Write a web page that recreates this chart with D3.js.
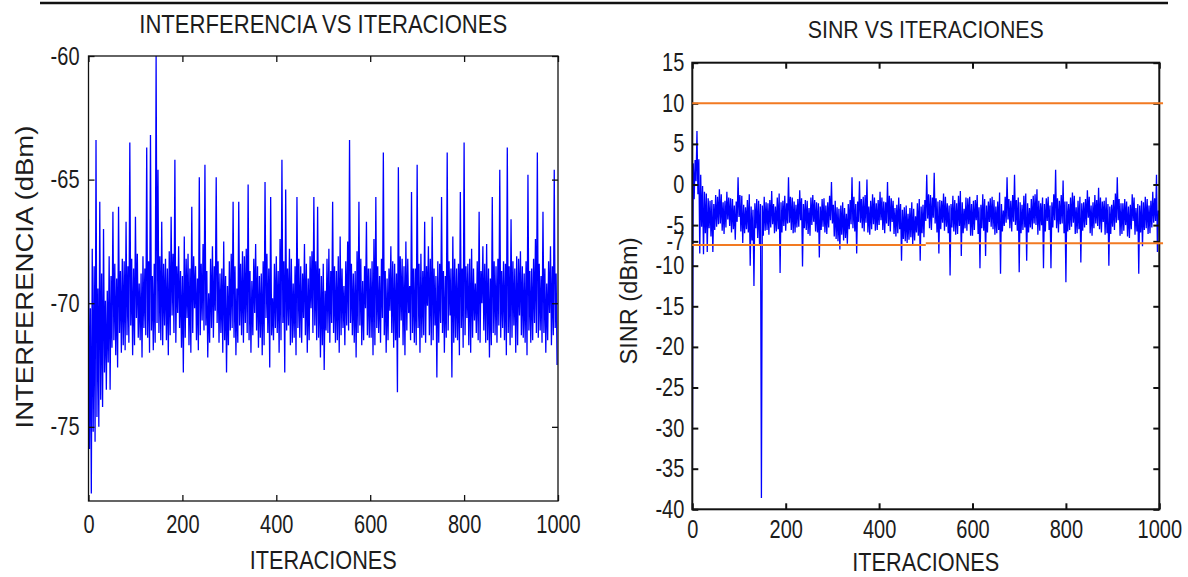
<!DOCTYPE html>
<html>
<head>
<meta charset="utf-8">
<script src="https://cdn.jsdelivr.net/npm/d3@7"></script>
<style>
body { margin: 0; background: #fff; }
svg text { font-family: "Liberation Sans", Arial, sans-serif; fill: #1c1c1c; }
</style>
</head>
<body>
<div id="chart"></div>
<script>
// una muestra cada 2 iteraciones
const paso = 2;

const interferencia = [
  -66.6, -75.9, -70.2, -77.7, -67.8, -75.2, -68.5, -75.6, -63.4, -74.6, -69.4, -75.0, -65.9, -73.9, -68.8, -74.2, -67.0, -72.8, -69.9, -73.5,
  -69.5, -72.4, -68.1, -73.5, -68.9, -71.8, -66.3, -71.5, -68.4, -72.1, -69.0, -72.6, -66.1, -71.2, -68.7, -72.0, -68.2, -71.7, -68.3, -71.9,
  -66.7, -71.3, -68.5, -71.6, -63.5, -70.9, -68.2, -72.1, -68.6, -71.7, -66.5, -70.6, -68.0, -71.4, -69.2, -71.5, -68.8, -72.2, -68.1, -71.0,
  -68.6, -71.3, -63.7, -71.4, -68.3, -72.0, -63.2, -71.1, -68.9, -71.9, -68.4, -71.6, -60.0, -70.8, -64.6, -71.2, -68.1, -71.5, -66.7, -71.7,
  -68.4, -70.9, -68.2, -71.5, -68.6, -72.1, -67.9, -71.3, -66.5, -70.5, -68.0, -71.2, -64.2, -71.6, -68.5, -70.4, -67.7, -71.0, -68.7, -71.8,
  -68.9, -72.8, -67.3, -71.4, -68.2, -70.6, -68.0, -71.7, -68.6, -72.0, -66.1, -71.2, -68.1, -70.2, -68.5, -71.5, -69.0, -71.9, -64.9, -71.3,
  -68.4, -70.7, -67.6, -71.1, -64.4, -70.9, -68.7, -72.2, -69.6, -71.6, -68.2, -71.0, -67.7, -71.4, -68.5, -70.3, -64.9, -70.8, -68.3, -71.6,
  -68.8, -71.2, -68.6, -72.0, -67.5, -71.5, -68.9, -72.8, -69.3, -71.7, -68.3, -71.1, -68.0, -71.0, -65.9, -71.4, -68.5, -72.1, -69.4, -71.6,
  -65.9, -70.9, -68.4, -71.3, -67.9, -71.6, -68.1, -70.8, -67.8, -71.2, -65.2, -71.5, -68.7, -72.0, -69.1, -71.3, -68.2, -70.4, -67.6, -71.1,
  -68.5, -71.8, -68.9, -71.4, -68.8, -72.1, -68.3, -71.7, -65.1, -70.6, -68.0, -71.2, -68.6, -72.6, -65.7, -71.3, -69.8, -71.5, -68.4, -71.0,
  -68.1, -71.2, -68.7, -72.0, -67.4, -71.5, -64.2, -70.8, -68.3, -72.8, -65.4, -71.1, -68.6, -70.9, -67.8, -71.7, -68.2, -71.6, -69.2, -71.4,
  -68.5, -72.1, -65.7, -71.0, -68.2, -71.4, -68.5, -71.6, -68.8, -70.6, -67.6, -71.3, -68.4, -72.0, -69.0, -71.5, -68.1, -70.2, -67.9, -71.2,
  -65.7, -70.9, -68.3, -71.5, -66.1, -71.4, -68.6, -72.2, -68.9, -71.7, -68.4, -72.7, -69.5, -71.1, -68.2, -71.2, -67.8, -71.6, -68.7, -70.8,
  -65.9, -71.2, -68.5, -71.6, -68.7, -71.5, -68.1, -72.0, -67.3, -71.3, -68.6, -71.0, -69.3, -71.7, -68.3, -70.9, -67.5, -71.1, -63.4, -70.8,
  -68.4, -71.3, -68.8, -71.6, -68.7, -72.2, -67.9, -71.2, -65.9, -70.9, -68.2, -71.7, -69.1, -71.5, -68.5, -70.2, -66.7, -71.3, -68.6, -71.4,
  -68.6, -71.4, -68.3, -72.1, -67.4, -71.7, -65.7, -71.0, -68.5, -71.2, -68.9, -71.6, -68.2, -70.6, -63.9, -71.3, -68.7, -72.0, -69.0, -71.5,
  -68.6, -70.3, -67.7, -71.2, -68.3, -71.8, -68.4, -71.5, -68.8, -73.6, -64.5, -71.4, -68.1, -70.7, -68.2, -71.7, -68.5, -72.1, -67.5, -71.1,
  -68.2, -70.4, -69.3, -71.5, -65.5, -71.2, -68.6, -71.6, -68.6, -71.7, -64.4, -71.0, -68.4, -72.0, -68.0, -71.4, -68.7, -71.3, -66.7, -71.6,
  -68.5, -70.1, -67.7, -71.3, -68.2, -71.7, -66.5, -71.5, -68.6, -70.9, -68.9, -73.0, -68.3, -71.6, -68.4, -70.8, -65.7, -71.2, -68.7, -72.0,
  -68.9, -71.4, -63.9, -71.1, -68.3, -70.5, -68.6, -73.0, -67.3, -71.6, -68.2, -71.4, -68.6, -71.5, -68.4, -72.1, -65.5, -71.0, -68.6, -71.8,
  -63.5, -71.3, -68.5, -70.6, -68.4, -71.7, -68.2, -72.0, -67.8, -71.4, -68.6, -70.7, -69.2, -71.2, -68.3, -71.5, -66.3, -71.6, -68.7, -70.0,
  -67.7, -71.1, -68.4, -71.6, -67.6, -71.5, -68.6, -72.2, -69.0, -71.7, -65.7, -71.2, -68.3, -71.3, -68.5, -71.6, -68.2, -70.9, -64.6, -71.4,
  -68.7, -71.0, -68.3, -71.5, -68.4, -72.1, -63.7, -71.2, -68.5, -71.7, -66.6, -71.4, -68.3, -70.9, -68.6, -72.0, -68.1, -71.7, -68.2, -70.5,
  -67.9, -71.3, -68.5, -71.4, -68.8, -71.6, -68.3, -72.1, -64.8, -71.1, -68.7, -71.6, -68.6, -71.5, -68.2, -70.8, -67.4, -71.2, -63.9, -71.4,
  -68.4, -71.1, -68.9, -71.6, -66.3, -71.2, -68.6, -72.0, -69.2, -71.5, -68.3, -70.4, -67.7, -71.7, -68.5, -71.3, -64.6, -71.0, -68.8, -72.5
];

const sinr = [
  -39.0, 2.6, -1.8, 3.0, 0.4, 6.6, -1.2, 3.1, -8.5, 1.2, -5.2, -0.2, -8.6, -0.9, -6.0, -1.1, -8.3, -1.7, -5.4, -2.0,
  -6.4, -1.9, -8.3, -2.4, -5.6, -1.3, -5.2, -1.5, -4.9, -0.6, -4.8, -1.2, -5.7, -2.2, -6.1, -2.0, -5.3, -0.9, -4.3, -1.6,
  -5.1, -1.7, -5.9, -1.8, -5.5, -2.6, -6.8, -2.1, -4.6, 0.9, -4.0, -1.3, -5.8, -1.4, -7.2, -2.5, -6.0, -2.8, -5.5, -1.9,
  -5.9, -1.2, -10.0, -2.7, -6.9, -3.1, -12.5, -2.3, -5.4, -1.8, -6.6, -2.0, -7.4, -2.4, -38.6, -2.6, -6.3, -1.5, -5.7, -2.2,
  -5.6, -2.3, -6.2, -1.9, -5.3, -0.8, -4.9, -2.4, -6.0, -2.7, -5.8, -1.6, -5.5, -1.1, -10.9, -2.2, -5.9, -2.0, -5.1, -1.4,
  -5.7, -2.3, -4.8, 0.9, -4.7, -1.5, -5.6, -1.6, -6.0, -2.1, -5.9, -2.5, -5.3, -1.8, -5.2, -0.7, -4.4, -1.7, -10.1, -2.4,
  -5.4, -1.9, -5.6, -2.0, -6.1, -2.9, -6.3, -1.6, -5.0, -1.3, -4.6, -1.9, -5.8, -2.2, -5.9, -2.3, -9.0, -2.7, -5.6, -1.8,
  -5.2, -1.7, -5.9, -2.6, -6.1, -2.2, -5.3, -1.4, -4.4, 0.3, -4.8, -2.5, -6.4, -2.0, -6.7, -2.8, -7.0, -3.0, -8.0, -2.6,
  -6.2, -2.2, -6.9, -2.9, -6.6, -3.6, -7.3, -2.4, -5.5, -1.9, -4.9, 0.9, -5.4, -1.5, -5.8, -2.4, -8.5, -2.1, -4.6, 0.4,
  -4.7, -1.8, -5.4, -1.5, -5.8, -1.3, -4.7, 0.6, -5.9, -2.7, -6.2, -2.0, -5.5, -1.2, -4.9, -1.6, -5.7, -2.3, -5.6, -1.9,
  -5.0, -0.9, -4.4, -1.6, -5.6, -2.1, -6.0, -2.2, -4.8, 0.3, -5.1, -1.4, -5.8, -1.7, -4.6, -2.0, -6.1, -2.9, -6.4, -2.5,
  -6.0, -1.6, -5.5, -2.4, -9.4, -3.1, -6.7, -2.8, -7.0, -2.6, -7.2, -3.6, -6.8, -2.9, -6.5, -2.2, -7.4, -3.0, -6.9, -3.9,
  -5.9, -2.3, -6.3, -1.8, -9.4, -2.7, -6.0, -2.5, -6.5, -1.9, -4.5, 1.2, -4.2, -1.2, -5.4, -1.3, -5.6, -1.6, -4.1, 1.45,
  -4.8, -1.7, -5.9, -2.1, -8.5, -1.9, -5.5, -2.0, -4.7, -1.1, -5.7, -1.5, -5.2, -2.3, -6.0, -2.6, -11.2, -2.4, -5.3, -1.4,
  -5.8, -1.9, -6.2, -2.3, -6.1, -1.4, -5.1, -0.8, -8.8, -2.2, -6.0, -3.0, -5.4, -1.6, -5.7, -1.7, -4.9, -1.5, -6.3, -2.4,
  -6.3, -2.0, -5.6, -1.9, -4.4, -1.3, -6.1, -2.8, -10.3, -2.5, -5.4, -1.2, -5.7, -1.8, -8.8, -2.6, -5.9, -2.1, -4.6, -1.7,
  -5.2, -1.5, -5.5, -1.9, -6.2, -2.7, -6.0, -2.1, -5.6, -1.0, -11.0, -2.4, -5.8, -3.2, -5.1, -1.5, -4.7, 0.9, -4.3, -1.8,
  -5.4, -2.0, -5.8, -1.3, -4.6, 1.2, -5.0, -1.9, -5.7, -1.6, -10.8, -2.2, -6.0, -2.5, -5.6, -1.4, -5.3, -1.1, -9.4, -2.3,
  -5.9, -2.9, -5.3, -1.8, -5.5, -1.4, -4.8, -1.2, -5.0, -0.6, -6.2, -2.0, -5.7, -2.3, -5.0, -1.6, -10.3, -2.4, -5.8, -1.7,
  -4.5, -1.5, -5.6, -2.6, -10.3, -2.2, -5.3, -1.2, -4.4, 1.8, -5.4, -1.7, -5.9, -2.0, -4.9, -1.3, -4.8, 0.5, -6.0, -2.1,
  -12.05, -2.1, -5.8, -2.4, -5.6, -1.6, -5.2, -1.0, -4.7, -1.4, -6.1, -2.8, -6.0, -2.0, -5.5, -1.5, -9.6, -2.3, -5.7, -2.2,
  -5.3, -1.8, -5.0, -0.7, -4.1, -1.5, -6.0, -2.6, -6.3, -2.2, -5.4, -1.3, -4.8, -1.9, -5.1, -0.4, -5.5, -1.6, -5.9, -2.1,
  -4.6, -2.0, -6.2, -1.6, -6.0, -2.4, -10.0, -2.7, -6.1, -2.5, -5.2, -1.9, -5.6, -1.1, -4.7, 0.9, -4.4, -1.8, -6.3, -2.3,
  -6.1, -2.3, -5.7, -1.8, -5.0, -2.1, -6.4, -2.7, -6.6, -2.5, -5.5, -1.2, -4.5, -1.6, -6.2, -2.9, -5.8, -2.4, -11.0, -2.6,
  -5.9, -2.0, -7.6, -2.2, -5.6, -1.5, -5.4, -1.8, -6.1, -2.6, -6.0, -2.0, -5.3, -0.9, -4.7, -1.7, -4.5, 1.2, -8.3, -3.2
];

const ticksX = [0, 200, 400, 600, 800, 1000];
const ticksInterf = [-60, -65, -70, -75];
const ticksSinr = [15, 10, 5, 0, -5, -7, -10, -15, -20, -25, -30, -35, -40];

// umbrales (lineas naranjas)
const umbralSup = 10;
const umbralInfX = [0, 500, 1008];
const umbralInf = [-7.45, -7.25];

// las etiquetas del original son angostas
const angosto = 0.8;

const svg = d3.select("#chart").append("svg")
    .attr("width", 1188)
    .attr("height", 577);

// linea de arriba
svg.append("line")
    .attr("x1", 40).attr("x2", 1168)
    .attr("y1", 3).attr("y2", 3)
    .attr("stroke", "#111").attr("stroke-width", 2.5);

function panel(p) {
    const g = svg.append("g");
    const x = d3.scaleLinear().domain([0, 1000]).range([p.left, p.right]);
    const y = d3.scaleLinear().domain(p.domY).range([p.bottom, p.top]);

    svg.append("clipPath").attr("id", "clip-" + p.id)
        .append("rect")
        .attr("x", p.left).attr("y", p.top)
        .attr("width", p.right - p.left).attr("height", p.bottom - p.top);

    const linea = d3.line()
        .x((d, i) => x(i * paso))
        .y(d => y(d));

    g.append("path")
        .datum(p.valores)
        .attr("clip-path", `url(#clip-${p.id})`)
        .attr("fill", "none")
        .attr("stroke", "#0000ff")
        .attr("stroke-width", 1.3)
        .attr("d", linea);

    //ejes con ticks hacia adentro
    const fmt = d => String(d);
    const abajo = g.append("g")
        .attr("transform", `translate(0,${p.bottom})`)
        .call(d3.axisBottom(x).tickValues(ticksX).tickFormat(fmt).tickSizeInner(-6).tickSizeOuter(0).tickPadding(p.padX));
    const arriba = g.append("g")
        .attr("transform", `translate(0,${p.top})`)
        .call(d3.axisTop(x).tickValues(ticksX).tickSizeInner(-6).tickSizeOuter(0).tickFormat(""));
    const izq = g.append("g")
        .attr("transform", `translate(${p.left},0)`)
        .call(d3.axisLeft(y).tickValues(p.ticksY).tickFormat(fmt).tickSizeInner(-6).tickSizeOuter(0).tickPadding(p.padY / angosto));
    const der = g.append("g")
        .attr("transform", `translate(${p.right},0)`)
        .call(d3.axisRight(y).tickValues(p.ticksY).tickSizeInner(-6).tickSizeOuter(0).tickFormat(""));

    [abajo, arriba, izq, der].forEach(a => {
        a.select(".domain").remove();
        a.selectAll("line").attr("stroke", "#111").attr("stroke-width", p.marco);
        a.selectAll("text")
            .attr("font-size", "25px")
            .attr("font-family", '"Liberation Sans", Arial, sans-serif')
            .attr("fill", "#1c1c1c")
            .attr("transform", `scale(${angosto},1)`);
    });

    g.append("rect")
        .attr("x", p.left).attr("y", p.top)
        .attr("width", p.right - p.left).attr("height", p.bottom - p.top)
        .attr("fill", "none")
        .attr("stroke", "#111")
        .attr("stroke-width", p.marco);

    //titulos
    g.append("text")
        .attr("x", (p.left + p.right) / 2).attr("y", p.tituloY)
        .attr("text-anchor", "middle")
        .attr("font-size", p.tituloFs + "px")
        .attr("textLength", p.tituloLen).attr("lengthAdjust", "spacingAndGlyphs")
        .attr("fill", "#2a2a2a")
        .text(p.titulo);

    g.append("text")
        .attr("x", (p.left + p.right) / 2).attr("y", p.xLabY)
        .attr("text-anchor", "middle")
        .attr("font-size", "26px")
        .attr("textLength", 147).attr("lengthAdjust", "spacingAndGlyphs")
        .attr("fill", "#2a2a2a")
        .text("ITERACIONES");

    g.append("text")
        .attr("transform", `translate(${p.yLabX},${p.yLabY}) rotate(-90)`)
        .attr("text-anchor", "middle")
        .attr("font-size", p.yLabFs + "px")
        .attr("textLength", p.yLabLen).attr("lengthAdjust", "spacingAndGlyphs")
        .attr("fill", "#2a2a2a")
        .text(p.yLab);

    return {x, y, g};
}

panel({
    id: "interf", left: 88.5, right: 558, top: 56, bottom: 501,
    domY: [-78, -60], ticksY: ticksInterf, valores: interferencia,
    padX: 14, padY: 9, marco: 1.3,
    titulo: "INTERFERENCIA VS ITERACIONES", tituloY: 33, tituloFs: 26, tituloLen: 368,
    xLabY: 569,
    yLab: "INTERFERENCIA (dBm)", yLabX: 33, yLabY: 277, yLabFs: 23, yLabLen: 303
});

const s = panel({
    id: "sinr", left: 692.3, right: 1159.3, top: 62.7, bottom: 509.3,
    domY: [-40, 15], ticksY: ticksSinr, valores: sinr,
    padX: 11, padY: 8, marco: 2,
    titulo: "SINR VS ITERACIONES", tituloY: 38, tituloFs: 24, tituloLen: 236,
    xLabY: 571,
    yLab: "SINR (dBm)", yLabX: 637, yLabY: 301, yLabFs: 23, yLabLen: 127
});

// umbrales sobre la senal
s.g.append("line")
    .attr("x1", s.x(umbralInfX[0])).attr("x2", s.x(umbralInfX[2]))
    .attr("y1", s.y(umbralSup)).attr("y2", s.y(umbralSup))
    .attr("stroke", "#f27a22").attr("stroke-width", 2);

s.g.selectAll(".umbral-inf")
    .data(umbralInf)
    .enter()
    .append("line")
    .attr("class", "umbral-inf")
    .attr("x1", (d, i) => s.x(umbralInfX[i]))
    .attr("x2", (d, i) => s.x(umbralInfX[i + 1]))
    .attr("y1", d => s.y(d)).attr("y2", d => s.y(d))
    .attr("stroke", "#f27a22").attr("stroke-width", 2);
</script>
</body>
</html>
